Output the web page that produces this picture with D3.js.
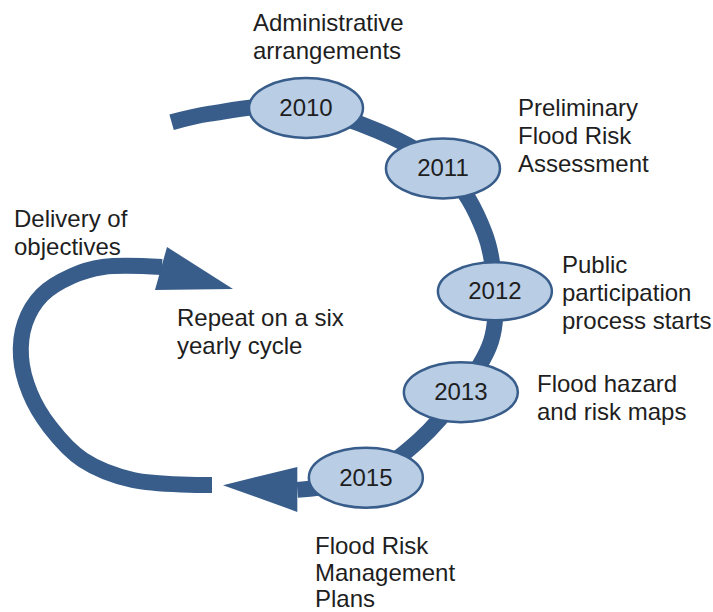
<!DOCTYPE html>
<html>
<head>
<meta charset="utf-8">
<script src="https://cdn.jsdelivr.net/npm/d3@7"></script>
<style>
  html, body { margin: 0; padding: 0; background: #fff; }
  svg { display: block; }
  text { font-family: "Liberation Sans", Arial, sans-serif; font-size: 24px; fill: #1e1e1e; }
</style>
</head>
<body>
<script>
// data
const years = [2010, 2011, 2012, 2013, 2015]
const milestones = [
  ['Administrative', 'arrangements'],
  ['Preliminary', 'Flood Risk', 'Assessment'],
  ['Public', 'participation', 'process starts'],
  ['Flood hazard', 'and risk maps'],
  ['Flood Risk', 'Management', 'Plans']
]
const deliveryLabel = ['Delivery of', 'objectives']
const cycleNote = ['Repeat on a six', 'yearly cycle']

// layout (polar placement of the timeline around a centre)
const W = 713, H = 612
const centre = [304, 298]
const nodeAngle = [0.6, 47, 88, 121, 161]
const nodeRadius = [190, 190, 191, 183, 190]
const labelPos = [[253, 31], [518, 116], [562, 273], [537, 392], [315, 554]]
const trackExtra = [[-37, 220], [-27, 207], [70, 192], [103, 192], [141, 183], [182, 192]]
const loopPts = [[212, 485], [133, 480], [83, 460], [50, 427], [30, 393], [21, 357],
                 [25, 323], [42, 295], [72, 276], [103, 267], [162, 267]]

const dark = '#385d8a', light = '#b9cde5'
const lineH = 28

const angle = d3.scaleLinear().domain(years).range(nodeAngle)
const radius = d3.scaleLinear().domain(years).range(nodeRadius)
const toRad = d => d * Math.PI / 180

const svg = d3.select('body').append('svg')
  .attr('width', W).attr('height', H)

const g = svg.append('g').attr('transform', `translate(${centre})`)

// main track: year nodes + in-between points, sorted by angle
const track = years.map(y => [angle(y), radius(y)])
  .concat(trackExtra)
  .sort((a, b) => a[0] - b[0])

g.append('path')
  .attr('d', d3.lineRadial()
    .angle(d => toRad(d[0]))
    .radius(d => d[1])
    .curve(d3.curveCatmullRom)(track))
  .attr('fill', 'none')
  .attr('stroke', dark)
  .attr('stroke-width', 16)

// main arrow head
const polar = (a, r) => [r * Math.sin(toRad(a)), -r * Math.cos(toRad(a))]
const headBase = polar(182, 192)
g.append('path')
  .attr('d', d3.line()([
    [headBase[0], headBase[1] - 23],
    [headBase[0], headBase[1] + 22],
    polar(203.4, 204)
  ]) + 'Z')
  .attr('fill', dark)

// left loop arrow
svg.append('path')
  .attr('d', d3.line().curve(d3.curveCatmullRom)(loopPts))
  .attr('fill', 'none')
  .attr('stroke', dark)
  .attr('stroke-width', 16)

svg.append('path')
  .attr('d', d3.line()([[167, 247], [155, 290], [233, 289]]) + 'Z')
  .attr('fill', dark)

// year nodes
const nodes = g.selectAll('g.node')
  .data(years)
  .enter()
  .append('g')
  .attr('class', 'node')
  .attr('transform', d => `translate(${polar(angle(d), radius(d))})`)

nodes.append('ellipse')
  .attr('rx', 57)
  .attr('ry', d => d === 2012 ? 29 : 30)
  .attr('fill', light)
  .attr('stroke', dark)
  .attr('stroke-width', 2.5)

nodes.append('text')
  .attr('text-anchor', 'middle')
  .attr('y', 8)
  .text(d => d)

// milestone labels
function block (lines, x, y, lh) {
  const t = svg.append('text').attr('x', x).attr('y', y)
  t.selectAll('tspan')
    .data(lines)
    .enter()
    .append('tspan')
    .attr('x', x)
    .attr('dy', (d, i) => i === 0 ? 0 : (lh || lineH))
    .text(d => d)
}

milestones.forEach((m, i) => block(m, labelPos[i][0], labelPos[i][1], i === 4 ? 26.5 : lineH))
block(deliveryLabel, 14, 227)
block(cycleNote, 177, 326)
</script>
</body>
</html>
